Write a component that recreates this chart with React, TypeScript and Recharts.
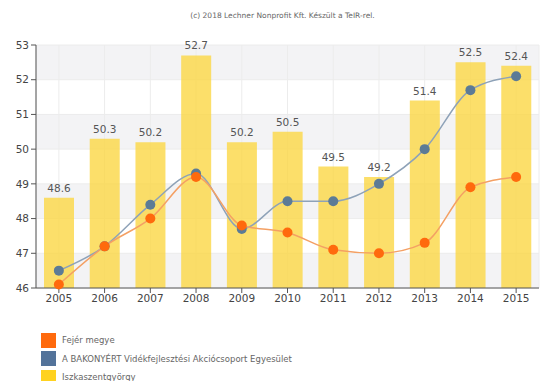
import React from "react";
import {
  Bar,
  CartesianGrid,
  ComposedChart,
  LabelList,
  Line,
  XAxis,
  YAxis,
} from "recharts";

const years = ["2005", "2006", "2007", "2008", "2009", "2010", "2011", "2012", "2013", "2014", "2015"];
const fejer = [46.1, 47.2, 48.0, 49.2, 47.8, 47.6, 47.1, 47.0, 47.3, 48.9, 49.2];
const bakonyert = [46.5, 47.2, 48.4, 49.3, 47.7, 48.5, 48.5, 49.0, 50.0, 51.7, 52.1];
const iszkaszentgyorgy = [48.6, 50.3, 50.2, 52.7, 50.2, 50.5, 49.5, 49.2, 51.4, 52.5, 52.4];
const yTicks = [46, 47, 48, 49, 50, 51, 52, 53];

const seriesNames = {
  fejer: "Fejér megye",
  bakonyert: "A BAKONYÉRT Vidékfejlesztési Akciócsoport Egyesület",
  iszka: "Iszkaszentgyörgy",
};

const data = years.map((year, i) => ({
  year,
  fejer: fejer[i],
  bakonyert: bakonyert[i],
  iszka: iszkaszentgyorgy[i],
}));

const font = "'DejaVu Sans', Verdana, sans-serif";

const legendItems = [
  { name: seriesNames.fejer, color: "#ff6a0d" },
  { name: seriesNames.bakonyert, color: "#53739a" },
  { name: seriesNames.iszka, color: "#ffd21f" },
];

export default function App() {
  return (
    <div
      style={{
        position: "absolute",
        left: 0,
        top: 0,
        width: 549,
        height: 381,
        background: "#fff",
        fontFamily: font,
        overflow: "hidden",
      }}
    >
      <div
        style={{
          position: "absolute",
          left: 0,
          width: 565,
          top: 11,
          textAlign: "center",
          fontSize: 7.5,
          color: "#666",
        }}
      >
        (c) 2018 Lechner Nonprofit Kft. Készült a TeIR-rel.
      </div>
      <ComposedChart
        width={549}
        height={381}
        data={data}
        margin={{ top: 45, right: 10, left: 0, bottom: 63 }}
      >
        <CartesianGrid
          stroke="#ececec"
          horizontalFill={["#f3f3f5", "#ffffff"]}
          fillOpacity={1}
        />
        <XAxis
          dataKey="year"
          axisLine={{ stroke: "#555" }}
          tickLine={{ stroke: "#555" }}
          tick={{ fontSize: 10.5, fill: "#444", fontFamily: font }}
          tickSize={5}
          height={30}
        />
        <YAxis
          domain={[46, 53]}
          ticks={yTicks}
          width={36}
          axisLine={{ stroke: "#555" }}
          tickLine={{ stroke: "#555" }}
          tick={{ fontSize: 10.5, fill: "#444", fontFamily: font }}
          tickSize={5}
        />
        <Bar
          dataKey="iszka"
          name={seriesNames.iszka}
          fill="#fbd640"
          fillOpacity={0.78}
          barSize={30}
          isAnimationActive={false}
        >
          <LabelList
            dataKey="iszka"
            position="top"
            offset={6}
            style={{ fontSize: 10.5, fill: "#555", fontFamily: font }}
          />
        </Bar>
        <Line
          type="monotone"
          dataKey="bakonyert"
          name={seriesNames.bakonyert}
          stroke="#8ea2b8"
          strokeWidth={1.5}
          dot={{ r: 5, fill: "#5c7b96", stroke: "#5c7b96", strokeWidth: 0 }}
          isAnimationActive={false}
        />
        <Line
          type="monotone"
          dataKey="fejer"
          name={seriesNames.fejer}
          stroke="#f4a064"
          strokeWidth={1.5}
          dot={{ r: 5, fill: "#ff6a0d", stroke: "#ff6a0d", strokeWidth: 0 }}
          isAnimationActive={false}
        />
      </ComposedChart>
      <div style={{ position: "absolute", left: 41, top: 331 }}>
        {legendItems.map((item) => (
          <div
            key={item.name}
            style={{ display: "flex", alignItems: "center", height: 18.5 }}
          >
            <span
              style={{
                display: "inline-block",
                width: 15,
                height: 15,
                background: item.color,
                marginRight: 6,
              }}
            />
            <span style={{ fontSize: 8.5, color: "#666" }}>{item.name}</span>
          </div>
        ))}
      </div>
    </div>
  );
}
